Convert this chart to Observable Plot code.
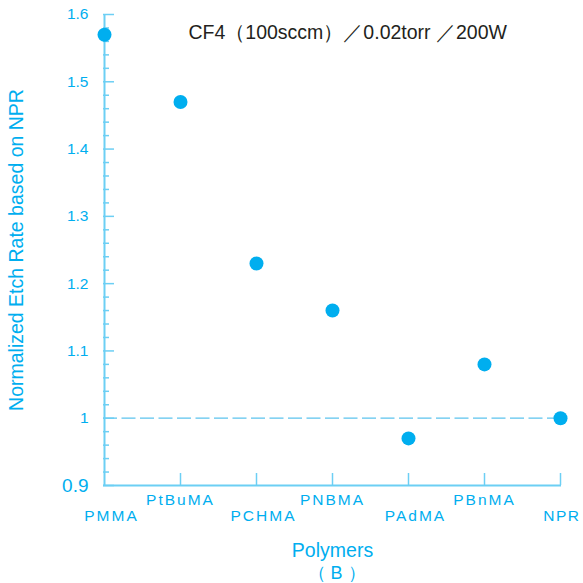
<!DOCTYPE html>
<html>
<head>
<meta charset="utf-8">
<script src="https://cdn.jsdelivr.net/npm/d3@7"></script>
<script src="https://cdn.jsdelivr.net/npm/@observablehq/plot@0.6"></script>
<style>
  html, body { margin: 0; padding: 0; background: #fff; }
  #chart svg { display: block; }
</style>
</head>
<body>
<div id="chart"></div>
<script>
const polymers = ["PMMA", "PtBuMA", "PCHMA", "PNBMA", "PAdMA", "PBnMA", "NPR"];
const etchRates = [1.57, 1.47, 1.23, 1.16, 0.97, 1.08, 1.0];
const majorTicks = [0.9, 1.0, 1.1, 1.2, 1.3, 1.4, 1.5, 1.6];
const tickLabels = ["0.9", "1", "1.1", "1.2", "1.3", "1.4", "1.5", "1.6"];
const minorTicks = d3.range(46, 80).map(i => i / 50).filter(v => Math.abs(v * 10 - Math.round(v * 10)) > 1e-6);
const referenceLine = 1.0;
const titleText = "CF4（100sccm）／0.02torr ／200W";
const yLabel = "Normalized Etch Rate based on NPR";
const xLabel = "Polymers";
const panelLabel = "（ B ）";

const data = polymers.map((p, i) => ({polymer: p, rate: etchRates[i]}));
const labelRows = polymers.map((p, i) => ({polymer: p, row: i % 2}));
const lastPolymer = polymers[polymers.length - 1];

const cyan = "#00AEEF";
const axisCol = "#6CCFF4";
const W = 583, H = 583;
const mL = 103, mR = 22, mT = 14, mB = 98;
const frameW = W - mL - mR, frameH = H - mT - mB;

const plot = Plot.plot({
  width: W,
  height: H,
  marginLeft: mL,
  marginRight: mR,
  marginTop: mT,
  marginBottom: mB,
  style: {fontFamily: "Arial, 'Liberation Sans', sans-serif", background: "#fff"},
  x: {type: "point", domain: polymers, padding: 0, axis: null},
  y: {domain: [0.9, 1.6], axis: null},
  marks: [
    Plot.ruleY([referenceLine], {stroke: "#5CC3EE", strokeWidth: 1.3, strokeDasharray: "14,4.5"}),
    Plot.ruleX([polymers[0]], {stroke: axisCol, strokeWidth: 2}),
    Plot.ruleY([0.9], {stroke: axisCol, strokeWidth: 2}),
    Plot.tickY(majorTicks, {y: d => d, stroke: axisCol, strokeWidth: 1.5, insetRight: frameW - 11}),
    Plot.tickY(minorTicks, {y: d => d, stroke: axisCol, strokeWidth: 1.5, insetRight: frameW - 6}),
    Plot.tickX(polymers.slice(1), {x: d => d, stroke: axisCol, strokeWidth: 1.5, insetTop: frameH - 12}),
    Plot.text(majorTicks, {
      x: () => polymers[0], y: d => d,
      text: (d, i) => tickLabels[i],
      textAnchor: "end", dx: -16,
      fill: cyan,
      fontSize: d => d === 0.9 ? 19 : 15.5
    }),
    Plot.text(labelRows.filter(d => d.row === 1), {
      x: "polymer", y: () => 0.9, text: "polymer", dy: 15, fill: cyan, fontSize: 15.5, lineAnchor: "middle"
    }),
    Plot.text(labelRows.filter(d => d.row === 0 && d.polymer !== lastPolymer), {
      x: "polymer", y: () => 0.9, text: "polymer", dy: 31, dx: 7, fill: cyan, fontSize: 15.5, lineAnchor: "middle"
    }),
    Plot.text(labelRows.filter(d => d.polymer === lastPolymer), {
      x: "polymer", y: () => 0.9, text: "polymer", dy: 31, dx: 20, textAnchor: "end", fill: cyan, fontSize: 15.5, lineAnchor: "middle"
    }),
    Plot.dot(data, {x: "polymer", y: "rate", r: 7, fill: cyan}),
    Plot.text([titleText], {frameAnchor: "top-left", dx: 85, dy: 18, fill: "#231F20", fontSize: 19.5, textAnchor: "start", lineAnchor: "middle"}),
    Plot.text([xLabel], {frameAnchor: "bottom", dy: 65, fill: cyan, fontSize: 19.5, lineAnchor: "middle"}),
    Plot.text([panelLabel], {frameAnchor: "bottom", dy: 88, dx: 4, fill: cyan, fontSize: 18, lineAnchor: "middle"}),
    Plot.text([yLabel], {frameAnchor: "left", dx: -87, dy: 0, rotate: -90, textAnchor: "middle", fill: cyan, fontSize: 19.5, lineAnchor: "middle"})
  ]
});

const catSet = new Set(polymers);
plot.querySelectorAll("text").forEach(t => {
  if (catSet.has(t.textContent)) t.setAttribute("letter-spacing", t.textContent === lastPolymer ? "1.5" : "2");
});

document.getElementById("chart").appendChild(plot);
</script>
</body>
</html>
